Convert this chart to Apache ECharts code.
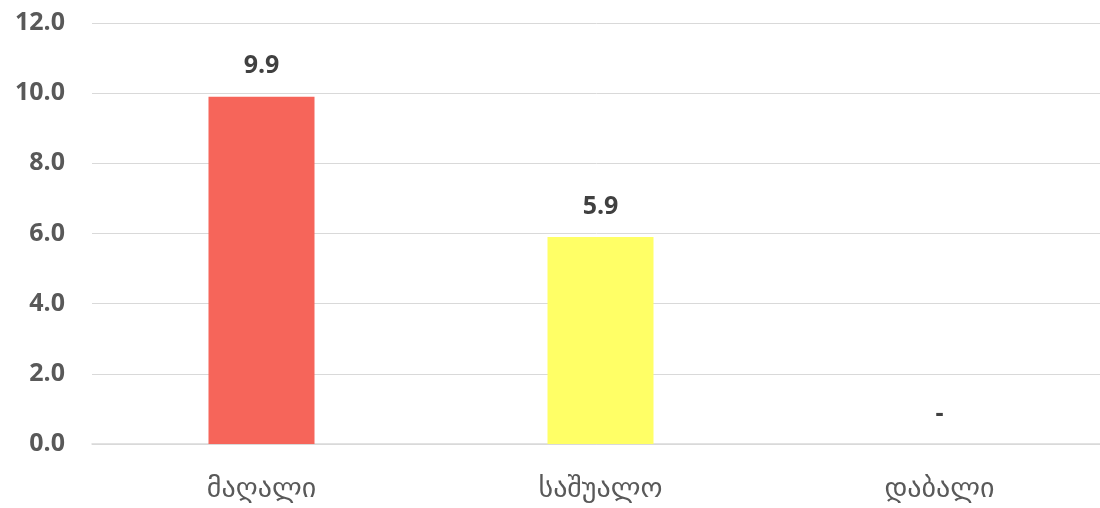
<!DOCTYPE html>
<html>
<head>
<meta charset="utf-8">
<script src="https://cdn.jsdelivr.net/npm/echarts@6/dist/echarts.min.js"></script>
<style>
  html, body { margin: 0; padding: 0; background: #ffffff; }
  #chart { width: 1100px; height: 508px; }
</style>
</head>
<body>
<div id="chart"></div>
<script>
// Risk levels and their scores
const categories = ['მაღალი', 'საშუალო', 'დაბალი'];
const values = [9.9, 5.9, 0];
const barColors = ['#F6655A', '#FFFF66', '#A5A5A5'];
const yTicks = { min: 0, max: 12, interval: 2 };

const chart = echarts.init(document.getElementById('chart'));

chart.setOption({
  animation: false,
  grid: { left: 92, top: 23, width: 1017, height: 421, containLabel: false, outerBoundsMode: 'none' },
  xAxis: {
    type: 'category',
    data: categories,
    axisTick: { show: false },
    axisLine: { lineStyle: { color: '#d9d9d9', width: 1.5 } },
    axisLabel: {
      margin: 32,
      fontSize: 28,
      color: '#595959',
      fontFamily: 'DejaVu Sans'
    }
  },
  yAxis: {
    type: 'value',
    min: yTicks.min,
    max: yTicks.max,
    interval: yTicks.interval,
    axisLine: { show: false },
    axisTick: { show: false },
    splitLine: { lineStyle: { color: '#d9d9d9', width: 1 } },
    axisLabel: {
      margin: 27,
      fontSize: 25,
      fontWeight: 'bold',
      color: '#595959',
      fontFamily: 'Open Sans',
      formatter: v => v.toFixed(1)
    }
  },
  series: [{
    type: 'bar',
    barWidth: 106,
    data: values.map((v, i) => ({ value: v, itemStyle: { color: barColors[i] } })),
    label: {
      show: true,
      position: 'top',
      distance: 18,
      fontSize: 25,
      fontWeight: 'bold',
      color: '#404040',
      fontFamily: 'Open Sans',
      formatter: p => p.value === 0 ? '-' : p.value.toFixed(1)
    }
  }]
});
</script>
</body>
</html>
